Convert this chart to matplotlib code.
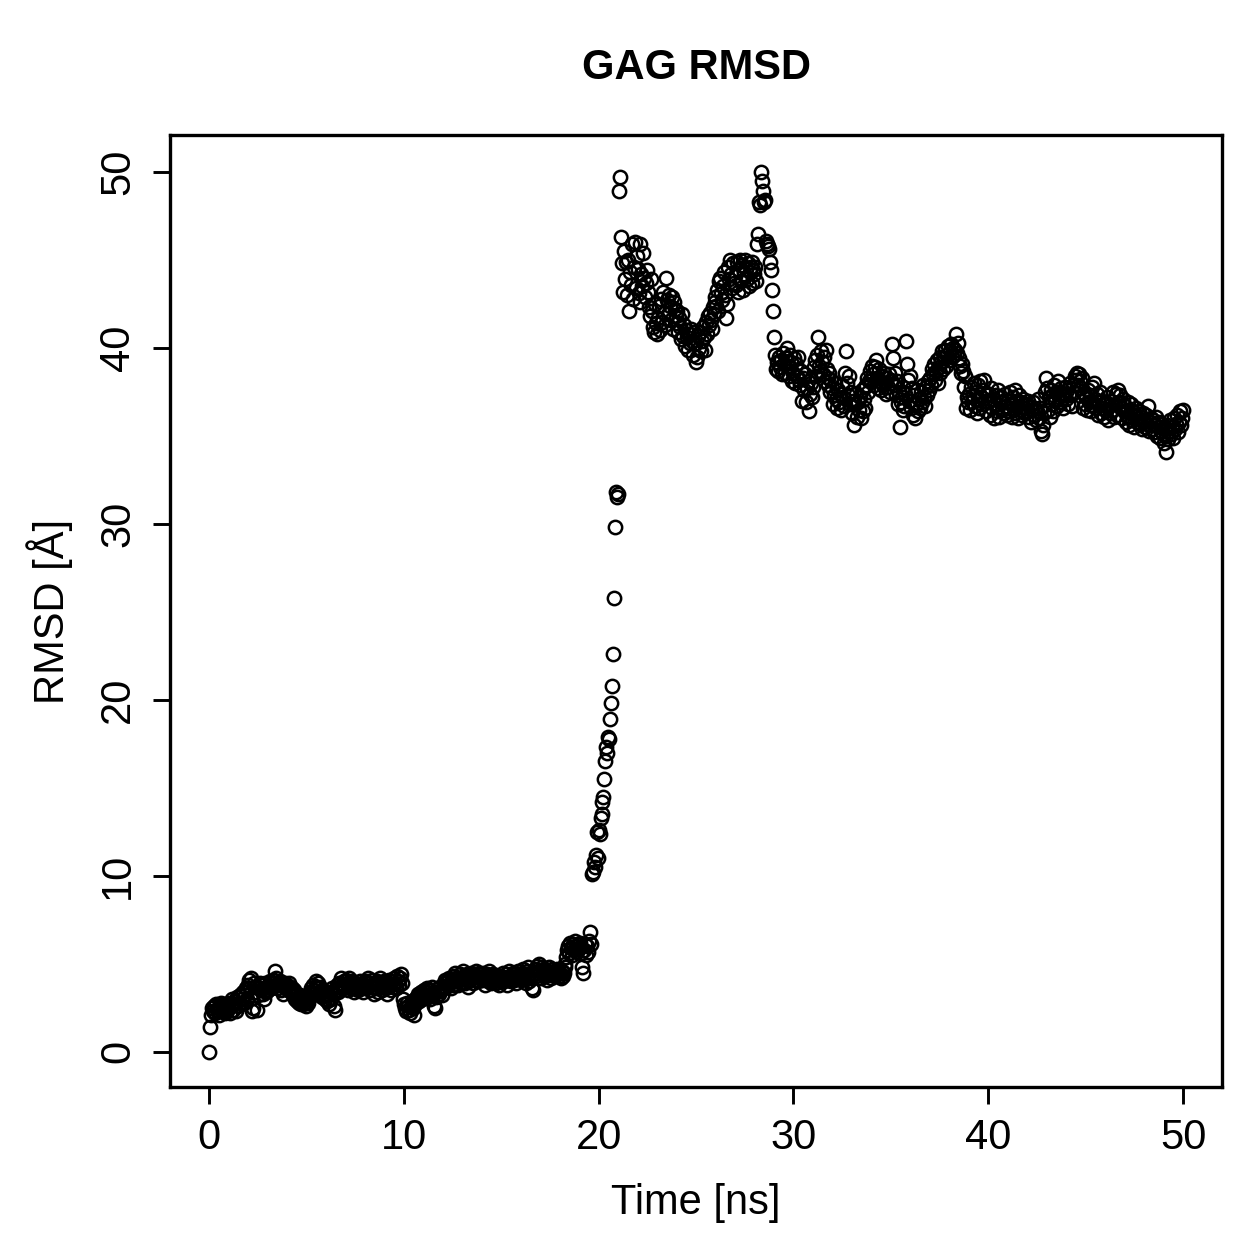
import numpy as np
import matplotlib.pyplot as plt

plt.rcParams['font.family'] = ['Liberation Sans', 'DejaVu Sans']

# RMSD values, one frame every 0.05 ns (one row = 1 ns)
rmsd = [
    0.0, 1.4, 2.1, 2.5, 2.3, 2.6, 2.2, 2.7, 2.4, 2.5, 2.1, 2.6, 2.8, 2.3, 2.5, 2.7, 2.2, 2.4, 2.6, 2.3,
    2.5, 2.8, 2.2, 2.6, 3.0, 2.4, 2.7, 2.9, 2.3, 3.1, 2.6, 2.8, 3.2, 2.7, 3.0, 3.4, 2.8, 3.2, 3.6, 3.0,
    3.8, 4.1, 3.6, 4.2, 2.3, 2.5, 3.9, 3.4, 3.7, 2.4, 3.2, 3.6, 3.9, 3.5, 3.8, 3.3, 3.0, 3.6, 3.9, 3.4,
    3.7, 3.5, 3.8, 4.0, 3.6, 3.9, 3.7, 4.1, 4.6, 4.2, 3.8, 3.6, 3.9, 4.0, 3.5, 3.8, 3.3, 3.7, 3.9, 3.6,
    3.8, 3.5, 3.9, 3.7, 3.4, 3.6, 3.2, 3.5, 3.0, 3.3, 2.9, 3.1, 2.8, 3.2, 2.7, 3.0, 2.9, 2.7, 3.1, 2.8,
    2.6, 3.0, 2.8, 3.3, 3.1, 3.6, 3.4, 3.8, 3.5, 3.7, 4.0, 3.6, 3.9, 3.3, 3.7, 3.4, 3.1, 3.5, 3.2, 3.0,
    3.3, 2.9, 3.2, 2.7, 3.4, 3.0, 3.6, 3.3, 2.6, 2.4, 3.5, 3.8, 3.4, 3.7, 3.9, 3.5, 4.2, 3.8, 3.6, 4.0,
    3.7, 4.1, 3.9, 3.5, 4.2, 3.8, 3.6, 4.0, 3.7, 3.4, 3.9, 3.6, 3.8, 3.5, 3.7, 4.0, 3.6, 3.9, 3.4, 3.8,
    3.6, 4.0, 3.7, 4.2, 3.9, 3.5, 3.8, 4.1, 3.7, 3.3, 3.9, 3.6, 4.0, 3.8, 3.4, 3.9, 4.2, 3.7, 3.5, 3.8,
    4.0, 3.6, 3.9, 3.3, 3.7, 4.1, 3.8, 3.5, 4.0, 3.7, 4.2, 3.9, 3.6, 4.3, 4.0, 3.8, 4.2, 4.4, 3.9, 3.0,
    2.7, 2.5, 2.3, 2.8, 2.6, 2.4, 2.2, 2.6, 2.9, 2.5, 2.1, 2.7, 3.0, 2.8, 3.1, 3.3, 2.9, 3.2, 3.4, 3.0,
    3.3, 3.5, 3.1, 3.4, 3.6, 3.2, 3.5, 3.0, 3.3, 3.7, 3.4, 2.6, 2.5, 3.1, 3.4, 3.6, 3.3, 3.7, 3.5, 3.2,
    3.6, 3.9, 4.1, 3.7, 4.0, 3.8, 4.2, 3.9, 3.6, 4.0, 4.1, 3.8, 4.3, 4.5, 4.0, 4.2, 3.8, 4.1, 4.4, 3.9,
    4.2, 4.6, 4.3, 3.9, 4.1, 4.4, 3.7, 4.0, 4.3, 4.5, 4.2, 3.9, 4.4, 4.1, 4.6, 4.3, 4.0, 4.5, 4.2, 4.4,
    4.1, 4.5, 4.3, 3.8, 4.2, 4.4, 4.0, 4.6, 4.3, 4.1, 3.9, 4.2, 4.4, 4.0, 4.3, 3.9, 4.1, 4.2, 3.8, 4.0,
    4.3, 4.1, 4.5, 4.0, 4.2, 4.4, 3.8, 4.1, 4.6, 4.3, 4.0, 4.2, 4.5, 4.1, 4.4, 3.9, 4.3, 4.6, 4.2, 4.4,
    4.1, 4.5, 4.7, 4.2, 4.4, 3.9, 4.6, 4.3, 4.8, 4.0, 4.5, 4.2, 3.6, 3.5, 4.4, 4.7, 4.3, 4.9, 4.5, 5.0,
    4.6, 4.2, 4.8, 4.4, 4.7, 4.3, 4.5, 4.1, 4.6, 4.8, 4.4, 4.2, 4.7, 4.5, 4.3, 4.6, 4.4, 4.7, 4.5, 4.3,
    4.5, 4.2, 4.6, 4.3, 4.5, 4.8, 5.0, 5.4, 5.8, 6.0, 5.6, 6.2, 5.9, 5.5, 6.1, 5.8, 6.3, 6.0, 5.7, 6.1,
    5.9, 6.2, 5.6, 4.8, 4.5, 5.8, 6.1, 5.5, 6.0, 5.7, 6.3, 6.8, 6.1, 10.1, 10.2, 10.8, 10.5, 11.2, 12.5, 11.0,
    12.6, 12.4, 13.3, 13.5, 14.2, 14.5, 15.5, 16.5, 17.3, 17.0, 17.9, 17.8, 18.9, 19.8, 20.8, 22.6, 25.8, 29.8, 31.8, 31.5,
    31.7, 48.9, 49.7, 46.3, 44.8, 43.2, 45.5, 43.9, 44.9, 43.0, 45.0, 42.1, 44.3, 43.6, 45.9, 42.8, 44.6, 46.0, 43.4, 45.2,
    44.5, 43.1, 45.9, 42.6, 44.2, 43.5, 45.4, 44.0, 42.9, 43.7, 44.4, 43.2, 42.3, 41.8, 43.9, 42.1, 41.2, 40.9, 42.5, 41.4,
    40.8, 41.7, 42.4, 41.0, 42.8, 41.5, 43.2, 42.0, 41.3, 44.0, 42.7, 41.9, 43.0, 42.4, 41.6, 42.9, 41.1, 42.6, 42.2, 41.8,
    41.4, 42.1, 40.9, 41.7, 41.2, 40.5, 41.9, 40.7, 41.3, 40.1, 41.0, 40.6, 39.9, 40.8, 40.3, 41.1, 40.4, 39.6, 40.9, 40.2,
    39.2, 39.5, 40.7, 40.0, 40.9, 39.8, 40.4, 41.2, 40.6, 39.9, 41.5, 40.8, 41.8, 41.3, 42.0, 41.6, 41.1, 42.3, 41.9, 42.6,
    42.9, 42.4, 43.3, 42.1, 43.8, 44.0, 43.1, 42.7, 43.5, 44.3, 43.0, 41.7, 42.5, 44.6, 43.9, 45.0, 44.2, 43.4, 44.8, 43.7,
    44.1, 43.6, 44.9, 43.2, 44.4, 45.0, 43.8, 44.7, 43.3, 44.2, 45.0, 44.5, 43.9, 44.8, 43.5, 44.3, 44.6, 43.7, 44.9, 44.4,
    44.2, 44.6, 43.8, 45.9, 46.5, 48.3, 48.1, 50.0, 49.5, 48.9, 48.3, 48.4, 46.1, 45.9, 45.8, 45.6, 44.9, 44.4, 43.3, 42.1,
    40.6, 39.6, 38.8, 39.2, 38.7, 39.5, 38.9, 39.3, 38.5, 39.7, 39.1, 38.6, 39.4, 40.0, 39.0, 38.4, 39.6, 38.9, 39.2, 38.1,
    38.6, 39.4, 38.0, 39.1, 38.4, 39.5, 38.2, 37.9, 38.7, 37.0, 38.3, 37.6, 38.5, 36.9, 37.7, 38.1, 36.4, 37.4, 38.0, 37.2,
    37.8, 38.9, 39.3, 38.4, 39.6, 40.6, 39.0, 38.7, 39.8, 39.2, 38.5, 39.5, 38.1, 39.9, 38.8, 38.3, 37.9, 38.6, 37.5, 38.2,
    37.7, 36.8, 37.3, 38.0, 37.1, 36.6, 37.6, 36.9, 37.4, 36.5, 37.9, 37.2, 36.7, 38.6, 39.8, 38.0, 37.3, 38.4, 36.8, 37.5,
    36.3, 37.0, 35.6, 36.8, 37.4, 36.1, 36.9, 36.5, 37.2, 36.0, 37.6, 36.4, 37.1, 37.8, 36.6, 37.9, 38.3, 37.5, 38.1, 38.7,
    38.2, 39.0, 38.5, 37.9, 38.9, 39.3, 38.3, 37.7, 38.8, 38.1, 37.6, 38.4, 37.9, 38.6, 38.0, 37.4, 38.3, 37.8, 38.5, 37.5,
    38.2, 40.2, 39.4, 37.9, 38.6, 37.3, 38.1, 36.8, 37.5, 35.5, 36.9, 37.2, 36.5, 37.8, 36.7, 37.4, 40.4, 39.1, 38.2, 37.0,
    38.4, 36.6, 37.7, 36.2, 37.3, 36.0, 36.8, 37.6, 36.4, 37.1, 36.6, 37.5, 36.9, 37.9, 37.2, 36.7, 37.8, 37.3, 38.1, 37.6,
    38.3, 37.9, 38.8, 38.5, 39.1, 38.2, 38.7, 39.3, 38.0, 38.9, 39.5, 38.6, 39.2, 39.8, 38.8, 39.4, 39.9, 39.0, 39.6, 40.1,
    39.3, 39.8, 40.2, 39.5, 40.0, 39.6, 39.9, 40.8, 39.7, 40.3, 39.4, 39.0, 38.6, 39.1, 38.7, 37.8, 38.4, 36.6, 37.2, 36.9,
    37.4, 36.5, 37.8, 36.9, 37.3, 38.0, 36.7, 37.5, 36.3, 37.1, 37.9, 36.6, 38.1, 37.2, 36.8, 37.6, 38.2, 37.0, 36.4, 37.3,
    36.9, 37.4, 36.2, 37.7, 36.6, 37.1, 36.0, 36.8, 37.3, 36.4, 37.6, 36.1, 36.9, 37.2, 36.5, 37.0, 36.3, 37.4, 36.7, 36.2,
    37.0, 36.4, 37.5, 36.8, 36.1, 37.2, 36.6, 37.6, 36.3, 37.0, 36.7, 36.0, 37.3, 36.5, 36.9, 36.2, 37.1, 36.6, 36.3, 36.8,
    36.4, 37.0, 36.1, 36.7, 35.8, 36.5, 36.9, 36.2, 36.6, 35.9, 36.4, 37.1, 36.0, 36.6, 35.3, 35.1, 35.6, 36.3, 37.5, 38.3,
    37.7, 36.5, 37.2, 36.1, 37.6, 36.8, 37.3, 36.4, 37.9, 37.0, 37.5, 36.7, 38.1, 37.2, 36.9, 37.7, 37.3, 36.6, 37.4, 37.8,
    37.1, 37.6, 36.8, 37.4, 38.0, 37.3, 36.7, 37.9, 37.5, 38.4, 38.2, 38.6, 37.9, 38.5, 38.1, 37.7, 38.3, 36.6, 37.4, 36.8,
    37.2, 36.5, 37.6, 36.9, 37.3, 36.4, 37.0, 37.8, 36.7, 38.0, 37.1, 36.6, 37.4, 36.2, 36.9, 37.5, 36.3, 37.0, 36.6, 36.1,
    36.8, 36.4, 37.2, 35.9, 36.7, 36.3, 37.0, 36.5, 37.5, 36.1, 36.8, 37.4, 36.2, 37.6, 36.9, 37.3, 36.6, 36.0, 37.1, 36.4,
    36.7, 35.8, 36.5, 36.1, 36.9, 35.6, 36.3, 36.8, 35.9, 36.4, 35.5, 36.2, 36.6, 35.8, 36.0, 36.4, 35.7, 36.1, 35.4, 36.3,
    35.9, 35.5, 36.2, 35.7, 36.7, 35.3, 35.8, 36.0, 35.4, 35.9, 35.2, 35.6, 36.1, 35.0, 35.5, 35.8, 34.9, 35.3, 35.7, 35.1,
    34.6, 35.4, 34.1, 35.0, 35.6, 34.8, 35.3, 35.9, 35.1, 35.5, 34.9, 36.0, 35.4, 35.7, 36.2, 35.2, 35.8, 36.4, 35.6, 36.0,
    36.5,
]
time_ns = np.arange(len(rmsd)) * 0.05

xticks = [0, 10, 20, 30, 40, 50]
yticks = [0, 10, 20, 30, 40, 50]

W = 1259
fig = plt.figure(figsize=(W / 100, W / 100), dpi=100)
ax = fig.add_axes([170 / W, 1 - 1087 / W, 1052 / W, 952 / W])

ax.plot(time_ns, rmsd, linestyle='none', marker='o', markersize=9.6,
        markerfacecolor='none', markeredgecolor='black', markeredgewidth=1.8)

ax.set_xlim(-2, 52)
ax.set_ylim(-2.0, 52.1)
ax.set_xticks(xticks)
ax.set_yticks(yticks)
for side in ax.spines.values():
    side.set_linewidth(2.4)

ax.tick_params(axis='both', length=12, width=2.1, labelsize=30, direction='out')
ax.tick_params(axis='x', pad=10)
ax.tick_params(axis='y', pad=11)
for lab in ax.get_yticklabels():
    lab.set_rotation(90)
    lab.set_va('center')

fig.text(696 / W, 1 - 68 / W, 'GAG RMSD', ha='center', va='center',
         fontsize=30, fontweight='bold')
fig.text(696 / W, 1 - 1203 / W, 'Time [ns]', ha='center', va='center', fontsize=30)
fig.text(50 / W, 1 - 611 / W, 'RMSD [Å]', ha='center', va='center',
         fontsize=30, rotation=90)

plt.savefig('out.png', dpi=100)
